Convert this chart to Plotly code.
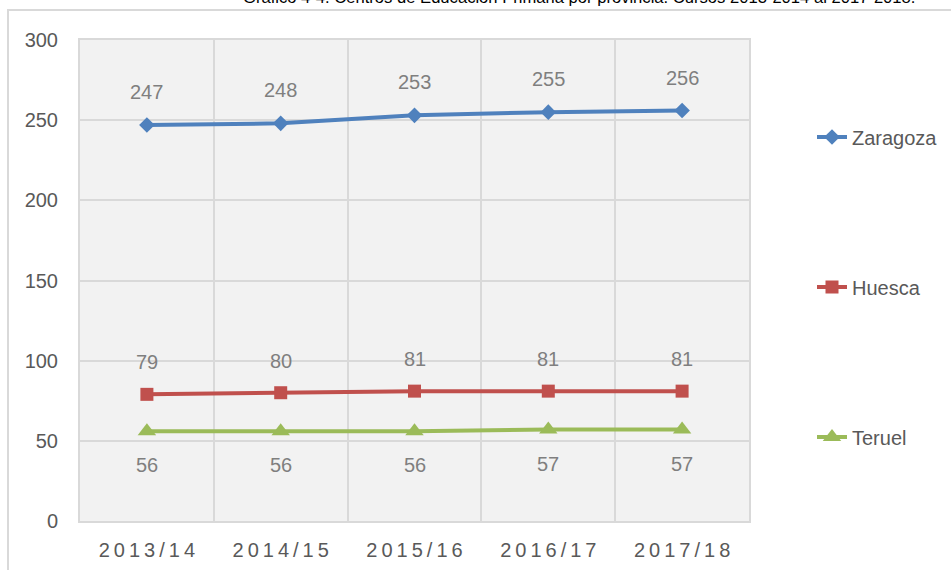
import plotly.graph_objects as go

# Academic years and number of primary schools per province
cursos = ["2013/14", "2014/15", "2015/16", "2016/17", "2017/18"]
zaragoza = [247, 248, 253, 255, 256]
huesca = [79, 80, 81, 81, 81]
teruel = [56, 56, 56, 57, 57]

y_ticks = [0, 50, 100, 150, 200, 250, 300]

series = [
    ("Zaragoza", zaragoza, "#4f81bd", "diamond", 12, 33, "legend"),
    ("Huesca", huesca, "#c0504d", "square", 13, 32, "legend2"),
    ("Teruel", teruel, "#9bbb59", "triangle-up", 16, -34, "legend3"),
]

FONT = "Liberation Sans, Arial, sans-serif"
W, H = 951, 570
L, R, T, B = 80, 202, 40, 49
PW, PH = W - L - R, H - T - B


def px_x(x):
    return (x - L) / PW


def px_y(y):
    return (H - B - y) / PH


x_idx = list(range(len(cursos)))
# widen tick labels a little with thin spaces between characters
spaced = ["\u2009".join(c) for c in cursos]

fig = go.Figure()
annotations = []
for name, vals, color, symbol, msize, shift, leg in series:
    fig.add_trace(go.Scatter(
        x=x_idx, y=vals, name=name, mode="lines+markers",
        line=dict(color=color, width=4),
        marker=dict(symbol=symbol, size=msize, color=color),
        legend=leg, showlegend=True,
    ))
    for i, v in zip(x_idx, vals):
        annotations.append(dict(
            x=i, y=v, xref="x", yref="y", text=str(v), showarrow=False,
            yshift=shift, font=dict(family=FONT, size=20, color="#7f7f7f"),
        ))

# title line, mostly cut off at the top of the page
annotations.append(dict(
    x=px_x(917), y=px_y(9), xref="paper", yref="paper",
    xanchor="right", yanchor="bottom", showarrow=False,
    text="Gráfico 4-4. Centros de Educación Primaria por provincia. Cursos 2013-2014 al 2017-2018.",
    font=dict(family=FONT, size=16.6, color="#000000"),
))

legend_style = dict(
    xref="container", yref="container",
    xanchor="left", yanchor="middle", bgcolor="rgba(0,0,0,0)",
    font=dict(family=FONT, size=20, color="#595959"), itemwidth=30,
)

fig.update_layout(
    width=W, height=H,
    margin=dict(l=L, r=R, t=T, b=B, autoexpand=False),
    paper_bgcolor="white",
    plot_bgcolor="#f2f2f2",
    font=dict(family=FONT, size=20, color="#595959"),
    annotations=annotations,
    showlegend=True,
    legend=dict(x=812 / W, y=1 - 137 / H, **legend_style),
    legend2=dict(x=812 / W, y=1 - 287 / H, **legend_style),
    legend3=dict(x=812 / W, y=1 - 437 / H, **legend_style),
    shapes=[dict(
        type="rect", xref="paper", yref="paper",
        x0=px_x(8), x1=px_x(990), y0=px_y(600), y1=px_y(10),
        line=dict(color="#d9d9d9", width=2), fillcolor="rgba(0,0,0,0)",
        layer="below",
    )],
    xaxis=dict(
        range=[-0.5, len(cursos) - 0.5],
        tickvals=x_idx, ticktext=spaced,
        showgrid=False, zeroline=False, automargin=False,
        showline=True, mirror=True, linecolor="#d9d9d9", linewidth=2,
        ticks="", ticklabelstandoff=10,
        tickfont=dict(family=FONT, size=20, color="#595959"),
        minor=dict(tickvals=[i + 0.5 for i in x_idx[:-1]], showgrid=True,
                   gridcolor="#d9d9d9", gridwidth=2),
    ),
    yaxis=dict(
        range=[0, 300], tickvals=y_ticks, automargin=False,
        showgrid=True, gridcolor="#d9d9d9", gridwidth=2, zeroline=False,
        showline=True, mirror=True, linecolor="#d9d9d9", linewidth=2,
        ticks="", ticklabelstandoff=16,
        tickfont=dict(family=FONT, size=20, color="#595959"),
    ),
)

fig.write_html("out.html")
